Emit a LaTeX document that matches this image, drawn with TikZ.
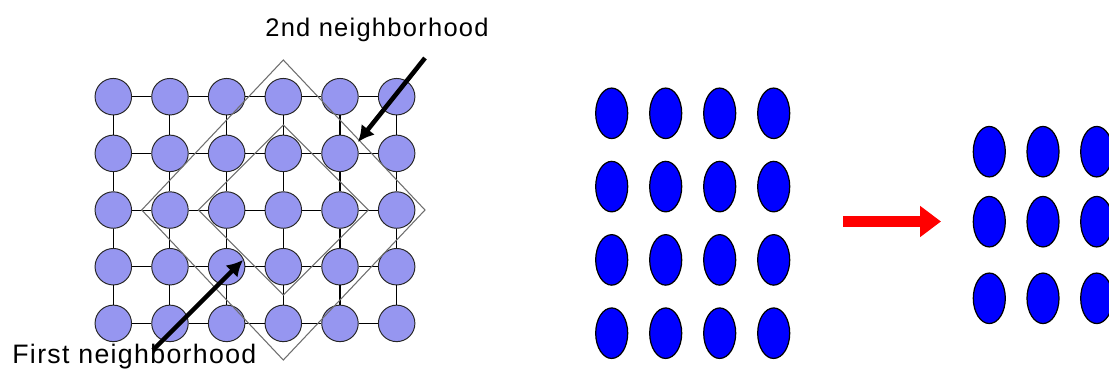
\documentclass[tikz,border=0pt]{standalone}
\usepackage{fontspec}
\setmainfont{Liberation Sans}
\newfontfamily\labelfont[LetterSpace=5]{Liberation Sans}
\usetikzlibrary{arrows.meta,shapes.geometric}
\definecolor{siteFill}{RGB}{150,150,240}
\definecolor{hoodGray}{RGB}{110,110,110}

\begin{document}
\begin{tikzpicture}[x=0.02cm, y=-0.02cm,
    every node/.style={font=\labelfont\fontsize{14.5}{17}\selectfont},
    site/.style={circle, draw=black!85, fill=siteFill, line width=0.55pt, minimum size=7.3mm, inner sep=0pt},
    bond/.style={draw=black, line width=0.6pt},
    hood/.style={draw=hoodGray, line width=0.6pt},
    pointer/.style={-{Latex[length=3.2mm,width=3.4mm]}, line width=2.6pt, draw=black},
    blob/.style={ellipse, draw=black, fill=blue, line width=0.7pt, minimum width=6.4mm, minimum height=10.1mm, inner sep=0pt},
    move arrow/.style={-{Triangle[length=4.2mm,width=6mm]}, line width=6pt, draw=red}
  ]
    \useasboundingbox (0,0) rectangle (1109,378);
    \clip (0,0) rectangle (1109,378);
    \fill[white] (0,0) rectangle (1109,378);

    % Square lattice of sites with nearest-neighbour bonds.
    \foreach \i in {0,...,5}
      \foreach \j in {0,...,4}
        \node[site] (site-\i-\j) at ({113.3+56.67*\i},{96.7+56.67*\j}) {};
    \foreach \i/\k in {0/1,1/2,2/3,3/4,4/5}
      \foreach \j in {0,...,4}
        \draw[bond] (site-\i-\j) -- (site-\k-\j);
    \foreach \j/\k in {0/1,1/2,2/3,3/4}
      \foreach \i in {0,...,5}
        \draw[bond] (site-\i-\j) -- (site-\i-\k);

    % First and second neighbourhood around the centre site.
    \draw[hood] (283.3,125) -- (368.3,210) -- (283.3,295) -- (198.3,210) -- cycle;
    \draw[hood] (283.3,60) -- (425,210) -- (283.3,360) -- (141.7,210) -- cycle;

    \node[anchor=base, inner sep=0pt] (outerLabel) at (377,36.7) {2nd neighborhood};
    \node[anchor=base west, inner sep=0pt, font=\labelfont\fontsize{15.2}{18}\selectfont] (innerLabel) at (12,363) {First neighborhood};

    \coordinate (outerTail) at (425,58);
    \coordinate (outerTip) at (358,142);
    \coordinate (innerTail) at (153,350);
    \coordinate (innerTip) at (243,260);
    \draw[pointer] (outerTail) -- (outerTip);
    \draw[pointer] (innerTail) -- (innerTip);

    % Grains before and after the transformation.
    \foreach \i in {0,...,3}
      \foreach \j in {0,...,3}
        \node[blob] (before-\i-\j) at ({611.7+54*\i},{113.3+73.3*\j}) {};
    \foreach \i in {0,...,2}
      \foreach \j/\y in {0/151.7,1/221.7,2/298.3}
        \node[blob] (after-\i-\j) at ({989.3+53.7*\i},\y) {};

    \coordinate (moveFrom) at (843,221.5);
    \coordinate (moveTo) at (941,221.5);
    \draw[move arrow] (moveFrom) -- (moveTo);
  \end{tikzpicture}
\end{document}
